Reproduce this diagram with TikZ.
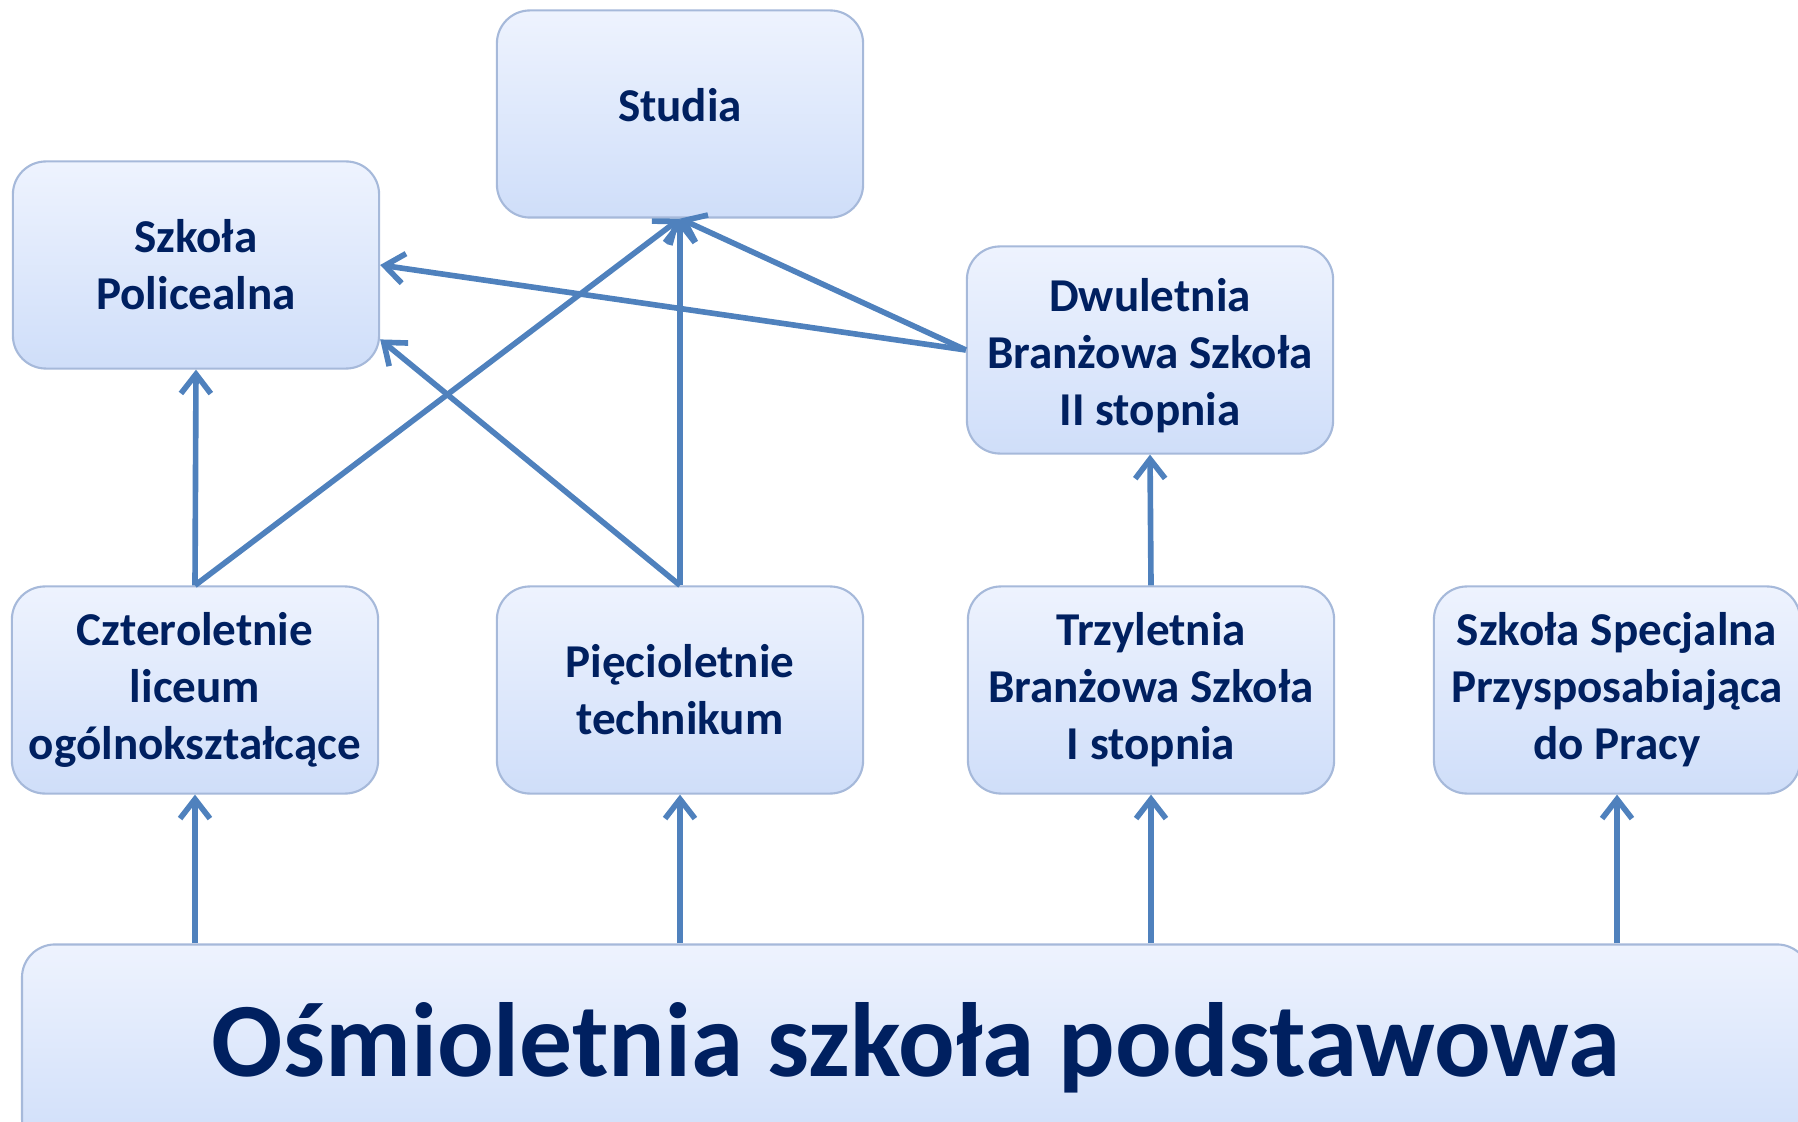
\documentclass[tikz,border=0pt]{standalone}
\usepackage{fontspec}
\setmainfont{Carlito}
\usetikzlibrary{arrows.meta}
\definecolor{navy}{RGB}{0,32,96}
\definecolor{arrowblue}{RGB}{79,129,189}
\definecolor{boxedge}{RGB}{166,185,218}
\definecolor{boxtop}{RGB}{238,243,254}
\definecolor{boxbot}{RGB}{207,222,249}

\begin{document}
\begin{tikzpicture}[x=0.01cm,y=-0.01cm,
	box/.style={draw=boxedge,line width=0.6pt,rounded corners=0.33cm,top color=boxtop,bottom color=boxbot,minimum width=3.66cm,minimum height=2.07cm,align=center,text=navy,font=\fontsize{13.4}{16.2}\selectfont\bfseries},
	link/.style={draw=arrowblue,line width=1.6pt,-{Straight Barb[length=5.5pt,width=8.5pt]}}]
	\useasboundingbox (0,0) rectangle (1798,1122);
	\node[box] (studia) at (680,114) {\raisebox{0.18cm}{Studia}};
	\node[box] (police) at (196,265) {Szkoła\\Policealna};
	\node[box] (dwu) at (1150,350) {\rule{0pt}{0.45cm}Dwuletnia\\Branżowa Szkoła\\II stopnia};
	\node[box] (czter) at (195,690) {Czteroletnie\\liceum\\ogólnokształcące};
	\node[box] (piec) at (680,690) {Pięcioletnie\\technikum};
	\node[box] (trzy) at (1151,690) {Trzyletnia\\Branżowa Szkoła\\I stopnia};
	\node[box] (spec) at (1617,690) {Szkoła Specjalna\\Przysposabiająca\\do Pracy};
	\node[box,minimum width=17.87cm,font=\fontsize{30}{36}\selectfont\bfseries] (base) at (916,1048) {Ośmioletnia szkoła podstawowa};
	% from the primary school up
	\draw[link] (base.north -| czter) -- (czter.south);
	\draw[link] (base.north -| piec) -- (piec.south);
	\draw[link] (base.north -| trzy) -- (trzy.south);
	\draw[link] (base.north -| spec) -- (spec.south);
	% further paths
	\draw[link] (czter.north) -- (police.south);
	\draw[link] (czter.north) -- (studia.south);
	\draw[link] (piec.north) -- (studia.south);
	\draw[link] (piec.north) -- (police.-22.5);
	\draw[link] (trzy.north) -- (dwu.south);
	\draw[link] (dwu.west) -- (studia.south);
	\draw[link] (dwu.west) -- (police.east);
\end{tikzpicture}
\end{document}
